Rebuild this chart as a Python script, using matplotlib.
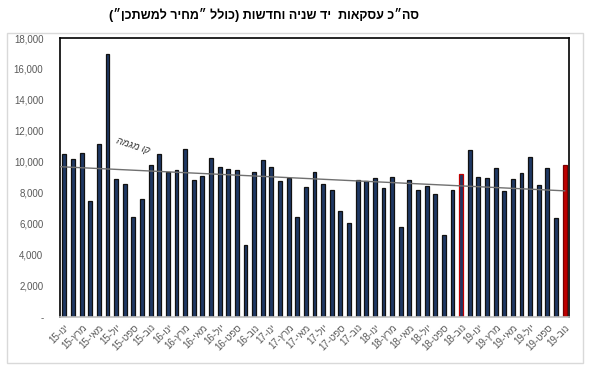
import numpy as np
import matplotlib.pyplot as plt
from matplotlib.patches import Rectangle

plt.rcParams['font.family'] = ['Liberation Sans', 'DejaVu Sans']

# Hebrew month abbreviations (logical order)
months_he = ["ינו", "פבר", "מרץ", "אפר", "מאי", "יונ",
             "יול", "אוג", "ספט", "אוק", "נוב", "דצמ"]

# Monthly transactions, Jan 2015 - Nov 2019
transactions = [
    10480, 10200, 10570, 7470, 11170, 16970, 8910, 8550, 6440, 7600, 9820, 10480,
    9340, 9450, 10800, 8810, 9060, 10240, 9640, 9540, 9450, 4640, 9320, 10090,
    9640, 8780, 8960, 6440, 8380, 9340, 8550, 8200, 6810, 6080, 8810, 8740,
    8960, 8310, 9040, 5780, 8850, 8160, 8420, 7950, 5260, 8200, 9240, 10740,
    9020, 8960, 9620, 8120, 8910, 9300, 10310, 8480, 9620, 6380, 9820,
]

# tick labels, drawn visually (matplotlib has no bidi): "ינו-15" -> "15-ונו"
labels = []
for yr in range(15, 20):
    for m in months_he:
        labels.append(f"{yr}-{m[::-1]}")
labels = labels[:len(transactions)]

title = 'סה״כ עסקאות  יד שניה וחדשות (כולל ״מחיר למשתכן״)'
trend_label = "קו מגמה"


def visual(s):
    # reverse for right-to-left display and mirror the brackets
    s = s[::-1]
    return s.translate(str.maketrans("()", ")("))


x = np.arange(len(transactions))
face = ["#1f3864"] * len(transactions)
edge = ["#111111"] * len(transactions)
edge[46] = "#c00000"
face[-1] = "#c00000"
edge[-1] = "#7a0000"

fig = plt.figure(figsize=(5.9, 3.71), dpi=100)
ax = fig.add_axes([60 / 590, 1 - 316.7 / 371, 509 / 590, 278.7 / 371])

# chart area border
fig.patches.append(Rectangle((7 / 590, 1 - 363 / 371), 576 / 590, 330 / 371,
                             transform=fig.transFigure, fill=False,
                             edgecolor="#d9d9d9", lw=1.0))

ax.bar(x, transactions, width=0.45, color=face, edgecolor=edge, linewidth=0.9, zorder=2)

# linear trend line
coef = np.polyfit(x, transactions, 1)
tx = np.array([-0.5, x[-1]])
ax.plot(tx, np.polyval(coef, tx), color="#707070", lw=1.0, zorder=3)
ax.text(8.0, 11050, visual(trend_label), fontsize=7, color="#333333",
        rotation=-18, ha="center", va="center", style="italic")

ax.set_xlim(-0.5, 58.5)
ax.set_ylim(0, 18000)
yt = list(range(0, 18001, 2000))
ax.set_yticks(yt)
ax.set_yticklabels(["-" if v == 0 else f"{v:,}" for v in yt])
ax.set_xticks(x[::2])
ax.set_xticklabels(labels[::2], rotation=45, ha="right", va="top",
                   rotation_mode="anchor")
ax.tick_params(axis="both", length=0, colors="#595959", labelsize=7)
ax.tick_params(axis="y", pad=12)
ax.tick_params(axis="x", pad=4)

for s in ax.spines.values():
    s.set_color("black")
    s.set_linewidth(1.2)
ax.spines["bottom"].set_color("#bfbfbf")

fig.text(264 / 590, 1 - 15 / 371, visual(title), ha="center", va="center",
         fontsize=9, fontweight="bold", color="black")

fig.savefig("out.png", dpi=100)
